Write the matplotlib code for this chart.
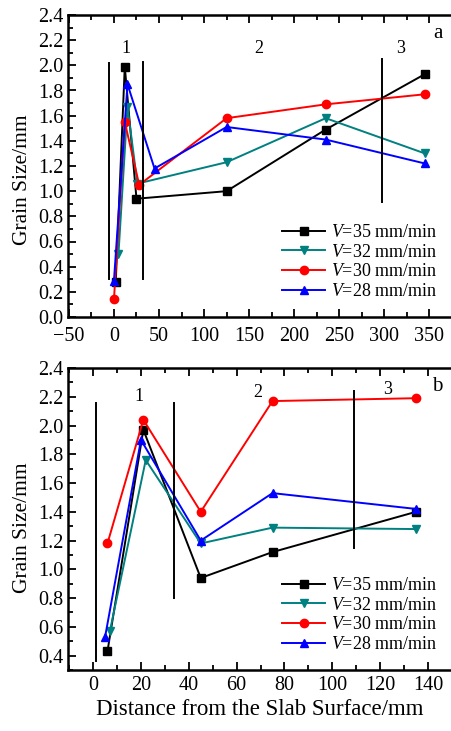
import matplotlib
matplotlib.use("Agg")
import matplotlib.pyplot as plt
from matplotlib.ticker import MultipleLocator

plt.rcParams['font.family'] = ['Liberation Serif', 'DejaVu Serif']
plt.rcParams['mathtext.fontset'] = 'custom'
plt.rcParams['mathtext.it'] = 'Liberation Serif:italic'
plt.rcParams['mathtext.rm'] = 'Liberation Serif'

labels = ['$V$=35 mm/min', '$V$=32 mm/min', '$V$=30 mm/min', '$V$=28 mm/min']
colors = ['black', '#008080', 'red', 'blue']
markers = ['s', 'v', 'o', '^']

# Panel a
a_x35 = [2, 12, 25, 125, 235, 345]
a_y35 = [0.28, 1.99, 0.94, 1.00, 1.49, 1.93]
a_x32 = [5, 15, 26, 125, 235, 345]
a_y32 = [0.50, 1.67, 1.06, 1.23, 1.58, 1.30]
a_x30 = [0, 12, 28, 125, 235, 345]
a_y30 = [0.14, 1.55, 1.05, 1.58, 1.69, 1.77]
a_x28 = [0, 15, 45, 125, 235, 345]
a_y28 = [0.29, 1.85, 1.18, 1.51, 1.41, 1.22]
a_vlines_x = [-5, 32, 297]
a_vlines_y0 = [0.30, 0.30, 0.91]
a_vlines_y1 = [2.02, 2.03, 2.05]
a_zone_x = [13, 161, 318]
a_zone_y = [2.13, 2.13, 2.13]

# Panel b
b_x35 = [6, 21, 45, 75, 135]
b_y35 = [0.43, 1.97, 0.94, 1.12, 1.40]
b_x32 = [7, 22, 45, 75, 135]
b_y32 = [0.57, 1.76, 1.18, 1.29, 1.28]
b_x30 = [6, 21, 45, 75, 135]
b_y30 = [1.18, 2.04, 1.40, 2.17, 2.19]
b_x28 = [5, 20, 45, 75, 135]
b_y28 = [0.53, 1.90, 1.20, 1.53, 1.42]
b_vlines_x = [1, 34, 109]
b_vlines_y0 = [0.36, 0.80, 1.15]
b_vlines_y1 = [2.16, 2.16, 2.24]
b_zone_x = [19, 69, 123]
b_zone_y = [2.20, 2.23, 2.25]

W, H = 451, 731
fig = plt.figure(figsize=(W / 100, H / 100), dpi=100)
left = 68 / W
right = 1.002
axa = fig.add_axes([left, 1 - 317 / H, right - left, (317 - 15) / H])
axb = fig.add_axes([left, 1 - 670 / H, right - left, (670 - 368) / H])

def style(ax, xpad):
    for s in ax.spines.values():
        s.set_linewidth(1.8)
    ax.tick_params(which='both', direction='in', top=True, right=False,
                   labelsize=14.5, width=1.3)
    ax.tick_params(which='major', length=6)
    ax.tick_params(which='minor', length=3.5)
    ax.tick_params(axis='x', pad=xpad)
    ax.tick_params(axis='y', pad=3)

def draw(ax, series, vx, vy0, vy1, zx, zy, letter, ly, xpad):
    for (x, y), lab, c, m in zip(series, labels, colors, markers):
        ax.plot(x, y, color=c, marker=m, markersize=6, linewidth=1.4, label=lab)
    for x, y0, y1 in zip(vx, vy0, vy1):
        ax.plot([x, x], [y0, y1], color='black', linewidth=1.4)
    for i, (x, y) in enumerate(zip(zx, zy)):
        ax.text(x, y, str(i + 1), fontsize=13, ha='center', va='center')
    ax.text(0.975, 0.94, letter, transform=ax.transAxes, fontsize=15,
            ha='right', va='center')
    ax.set_ylabel('Grain Size/mm', fontsize=15.5)
    ax.yaxis.set_label_coords(-0.094, ly)
    style(ax, xpad)
    ax.legend(loc='lower right', bbox_to_anchor=(0.99, 0.02), frameon=False,
              fontsize=13, handlelength=2.4, handletextpad=0.3, labelspacing=0.15,
              borderaxespad=0.2)

draw(axa, [(a_x35, a_y35), (a_x32, a_y32), (a_x30, a_y30), (a_x28, a_y28)],
     a_vlines_x, a_vlines_y0, a_vlines_y1, a_zone_x, a_zone_y, 'a', 0.455, 7.5)
axa.set_xlim(-51, 375)
axa.set_ylim(0, 2.4)
axa.xaxis.set_major_locator(MultipleLocator(50))
axa.xaxis.set_minor_locator(MultipleLocator(25))
axa.yaxis.set_major_locator(MultipleLocator(0.2))
axa.yaxis.set_minor_locator(MultipleLocator(0.1))
axa.yaxis.set_major_formatter(plt.FuncFormatter(lambda v, p: f'{v:.1f}'))
axa.xaxis.set_major_formatter(plt.FuncFormatter(lambda v, p: f'{v:.0f}'.replace('-', '\u2212')))

draw(axb, [(b_x35, b_y35), (b_x32, b_y32), (b_x30, b_y30), (b_x28, b_y28)],
     b_vlines_x, b_vlines_y0, b_vlines_y1, b_zone_x, b_zone_y, 'b', 0.47, 4)
axb.set_xlim(-10.5, 150)
axb.set_ylim(0.3, 2.4)
axb.xaxis.set_major_locator(MultipleLocator(20))
axb.xaxis.set_minor_locator(MultipleLocator(10))
axb.yaxis.set_major_locator(MultipleLocator(0.2))
axb.yaxis.set_minor_locator(MultipleLocator(0.1))
axb.yaxis.set_major_formatter(plt.FuncFormatter(lambda v, p: f'{v:.1f}'))
axb.set_xlabel('Distance from the Slab Surface/mm', fontsize=16.5, labelpad=3)

fig.savefig('out.png', dpi=100)
